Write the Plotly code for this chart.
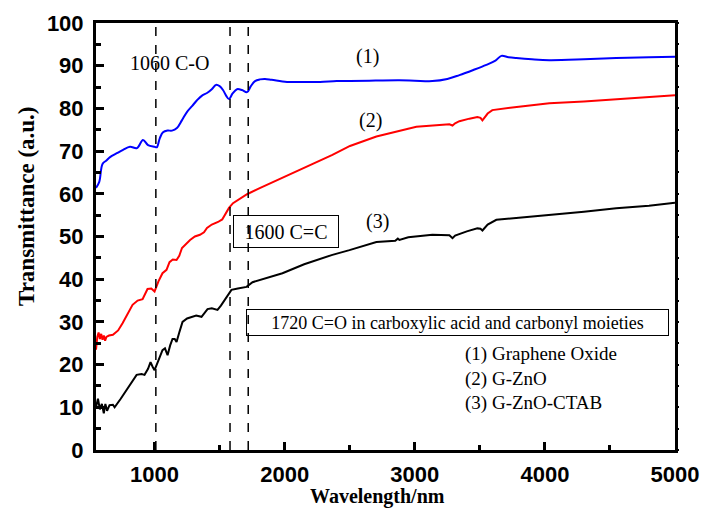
import plotly.graph_objects as go

# ---------------- data ----------------
go_x = [550, 575, 600, 630, 658, 710, 758, 811, 865, 911, 950, 1000, 1017, 1040, 1065, 1100, 1134,
        1172, 1210, 1250, 1290, 1326, 1365, 1403, 1440, 1472, 1500, 1526, 1550, 1572, 1600, 1634,
        1672, 1711, 1740, 1772, 1810, 1849, 1900, 2018, 2150, 2272, 2400, 2502, 2650, 2882, 3000,
        3135, 3250, 3343, 3450, 3550, 3620, 3665, 3720, 3780, 3900, 4034, 4300, 4548, 4800, 5000]
go_y = [61.4, 62.8, 67.0, 67.8, 68.6, 69.5, 70.3, 71.0, 70.7, 72.6, 71.4, 71.0, 70.9, 73.0, 74.4, 74.8, 74.8,
        75.4, 77.2, 79.2, 80.6, 81.9, 83.0, 83.6, 84.5, 85.5, 85.2, 84.3, 83.0, 82.2, 83.5, 84.5,
        84.3, 83.8, 85.2, 86.4, 86.8, 86.9, 86.7, 86.2, 86.2, 86.2, 86.4, 86.4, 86.5, 86.6, 86.5,
        86.4, 86.9, 87.8, 89.0, 90.2, 91.2, 92.3, 92.0, 91.8, 91.5, 91.3, 91.5, 91.8, 92.0, 92.1]

gzno_x = [550, 560, 570, 580, 590, 600, 610, 620, 630, 650, 680, 720, 754, 790, 831, 870, 908, 946,
          975, 1000, 1030, 1061, 1092, 1115, 1140, 1169, 1190, 1211, 1240, 1273, 1310, 1349, 1380,
          1403, 1440, 1488, 1520, 1541, 1572, 1603, 1650, 1711, 1800, 1941, 2050, 2195, 2367, 2502,
          2705, 3012, 3266, 3290, 3310, 3343, 3420, 3481, 3505, 3520, 3560, 3596, 3800, 4034, 4300,
          4548, 4800, 5000]
gzno_y = [23.5, 26.5, 27.5, 26.0, 27.2, 25.8, 26.8, 25.6, 26.5, 26.8, 27.0, 28.0, 29.7, 31.8, 34.0, 35.0, 35.3, 37.7,
          37.8, 37.1, 39.5, 41.4, 42.2, 44.0, 44.6, 44.5, 45.5, 47.3, 48.2, 49.2, 50.0, 50.4, 51.0,
          52.0, 52.8, 53.4, 54.0, 55.0, 56.7, 57.8, 58.8, 59.9, 61.2, 63.2, 64.8, 66.7, 69.1, 71.2,
          73.4, 75.7, 76.3, 76.0, 76.5, 77.0, 77.6, 78.0, 77.8, 77.2, 78.8, 79.6, 80.4, 81.2, 81.6,
          82.1, 82.6, 83.1]

ctab_x = [550, 565, 580, 595, 610, 622, 635, 654, 680, 693, 740, 785, 830, 862, 900, 923, 950, 969,
          985, 1000, 1030, 1061, 1080, 1100, 1120, 1138, 1155, 1169, 1190, 1215, 1250, 1284, 1320,
          1361, 1385, 1407, 1440, 1484, 1510, 1538, 1570, 1591, 1640, 1707, 1753, 1850, 1983, 2150,
          2367, 2498, 2705, 2850, 2870, 2882, 2950, 3135, 3266, 3290, 3310, 3400, 3481, 3505, 3520,
          3560, 3627, 3800, 4034, 4300, 4548, 4800, 5000]
ctab_y = [10.0, 12.0, 9.5, 10.8, 8.6, 10.8, 9.2, 10.5, 10.6, 10.0, 12.0, 14.0, 16.2, 17.6, 17.8, 17.6, 19.0, 20.6,
          19.5, 18.7, 21.0, 23.4, 23.8, 22.2, 24.5, 26.0, 26.0, 25.3, 27.5, 30.0, 30.8, 31.2, 31.5,
          31.2, 32.2, 33.0, 33.2, 32.8, 33.8, 35.1, 36.5, 37.5, 37.8, 38.2, 39.3, 40.2, 41.4, 43.5,
          45.7, 46.8, 48.7, 49.0, 49.5, 49.2, 49.8, 50.4, 50.3, 49.6, 50.2, 51.2, 51.9, 51.8, 51.4,
          52.8, 53.9, 54.4, 55.0, 55.8, 56.6, 57.2, 57.9]

peak_lines = [1010, 1580, 1720]

x_ticks = [1000, 2000, 3000, 4000, 5000]
y_ticks = [0, 10, 20, 30, 40, 50, 60, 70, 80, 90, 100]

# ---------------- figure ----------------
L, R, T, B = 96, 675, 23, 450  # plot area in px
W, H = 707, 519


def px(xp, yp):
    return (xp - L) / (R - L), (B - yp) / (B - T)


fig = go.Figure()
fig.add_trace(go.Scatter(x=go_x, y=go_y, mode="lines", line=dict(color="#0000ff", width=2),
                         line_shape="spline", showlegend=False))
fig.add_trace(go.Scatter(x=gzno_x, y=gzno_y, mode="lines", line=dict(color="#ff0000", width=2),
                         showlegend=False))
fig.add_trace(go.Scatter(x=ctab_x, y=ctab_y, mode="lines", line=dict(color="#000000", width=2),
                         showlegend=False))
# empty helper trace so the right-hand tick axis gets drawn
fig.add_trace(go.Scatter(x=[None], y=[None], yaxis="y2", mode="lines", showlegend=False,
                         hoverinfo="skip"))

for xv in peak_lines:
    fig.add_shape(type="line", x0=xv, x1=xv, y0=0, y1=100, xref="x", yref="y",
                  line=dict(color="black", width=1.5, dash="dash"))

serif = "Liberation Serif, Times New Roman, serif"
sans = "Liberation Sans, Arial, sans-serif"


def ann(text, xp, yp, size, **kw):
    x, y = px(xp, yp)
    d = dict(text=text, x=x, y=y, xref="paper", yref="paper", showarrow=False,
             xanchor="center", yanchor="middle",
             font=dict(family=serif, size=size, color="black"))
    d.update(kw)
    fig.add_annotation(**d)


ann("1060 C-O", 169, 63, 20)
ann("(1)", 367, 57, 20)
ann("(2)", 370, 120, 20)
ann("(3)", 377, 222, 20)
ann("1600 C=C", 286, 231, 20, bordercolor="black", borderwidth=1, borderpad=0,
    width=104, height=31)
ann("1720 C=O in carboxylic acid and carbonyl moieties", 457.5, 322.5, 18,
    bordercolor="black", borderwidth=1, borderpad=0, width=421, height=25)
ann("(1) Graphene Oxide<br>(2) G-ZnO<br>(3) G-ZnO-CTAB", 463, 378, 19,
    xanchor="left", align="left")
ann("<b>Transmittance (a.u.)</b>", 26, 206, 23, textangle=-90)
ann("<b>Wavelength/nm</b>", 377, 497, 20)

axis_common = dict(showline=True, linecolor="black", linewidth=3, mirror=True,
                   ticks="inside", ticklen=8, tickwidth=3, tickcolor="black",
                   showgrid=False, zeroline=False, automargin=False,
                   tickfont=dict(family=sans, size=22, color="black", weight="bold"))

fig.update_xaxes(range=[550, 5000], tickvals=x_ticks, ticktext=[str(v) for v in x_ticks],
                 minor=dict(dtick=500, tick0=0, ticks="inside", ticklen=5, tickwidth=3,
                            tickcolor="black"),
                 ticklabelstandoff=3, **axis_common)
fig.update_yaxes(range=[0, 100], tickvals=y_ticks, ticktext=[str(v) for v in y_ticks],
                 minor=dict(dtick=5, tick0=0, ticks="inside", ticklen=5, tickwidth=3,
                            tickcolor="black"),
                 ticklabelstandoff=5, **axis_common)

fig.update_layout(
    width=W, height=H, margin=dict(l=L, r=W - R, t=T, b=H - B),
    plot_bgcolor="white", paper_bgcolor="white",
    yaxis2=dict(overlaying="y", side="right", range=[0, 100], tickmode="linear", tick0=0,
                dtick=5, ticks="outside", ticklen=3, tickwidth=2, tickcolor="black",
                showticklabels=False, showgrid=False, zeroline=False, showline=False,
                automargin=False),
)

fig.write_html("out.html", config={"displayModeBar": False},
               post_script="document.body.style.margin='0';document.body.style.padding='0';")
